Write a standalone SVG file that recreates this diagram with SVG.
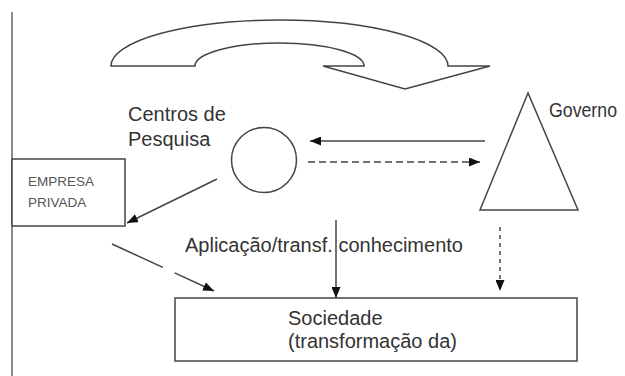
<svg xmlns="http://www.w3.org/2000/svg" width="625" height="376" viewBox="0 0 625 376">
<defs>
<marker id="ah" markerUnits="userSpaceOnUse" markerWidth="11" markerHeight="9" refX="11" refY="4.5" orient="auto">
<path d="M0,0 L11,4.5 L0,9 Z" fill="#111"/>
</marker>
</defs>
<style>
.ln{stroke:#444;stroke-width:1.5;fill:none}
.shape{stroke:#444;stroke-width:1.5;fill:#fff}
.t{font-family:"Liberation Sans",Arial,sans-serif;font-size:20px;fill:#333}
.s{font-family:"Liberation Sans",Arial,sans-serif;font-size:13.5px;fill:#555}
</style>
<rect width="625" height="376" fill="#fff"/>
<line x1="12" y1="12" x2="12" y2="376" stroke="#666" stroke-width="1.5"/>
<g id="cycle">
<path class="shape" d="M111,66 A168.5,46 0 0 1 448,66 L490,66 L405,89 L323,66 L364,66 A84.5,23 0 0 0 195,66 Z"/>
</g>
<g id="centros">
<circle class="shape" cx="264" cy="160" r="32.5"/>
<text class="t" x="128" y="121">Centros de</text>
<text class="t" x="128" y="146">Pesquisa</text>
</g>
<g id="governo">
<polygon class="shape" points="528,93 480,210 578,210"/>
<text class="t" x="549" y="117" font-size="19" textLength="68" lengthAdjust="spacingAndGlyphs">Governo</text>
</g>
<g id="empresa">
<rect class="shape" x="12" y="159" width="113" height="67"/>
<text class="s" x="28" y="186">EMPRESA</text>
<text class="s" x="28" y="207">PRIVADA</text>
</g>
<g id="sociedade">
<rect class="shape" x="175" y="298" width="402" height="63"/>
<text class="t" x="288" y="325">Sociedade</text>
<text class="t" x="288" y="348">(transformação da)</text>
</g>
<g id="connectors">
<line class="ln" x1="485" y1="141" x2="310" y2="141" marker-end="url(#ah)"/>
<line class="ln" x1="308" y1="162" x2="480" y2="162" stroke-dasharray="7 4" marker-end="url(#ah)"/>
<line class="ln" x1="217" y1="179" x2="127" y2="223" marker-end="url(#ah)"/>
<line class="ln" x1="112" y1="244" x2="214" y2="291" stroke-dasharray="56 13" marker-end="url(#ah)"/>
<line class="ln" x1="336" y1="220" x2="336" y2="298" marker-end="url(#ah)"/>
<line class="ln" x1="500" y1="227" x2="500" y2="291" stroke-dasharray="4 4" stroke="#777" marker-end="url(#ah)"/>
<text class="t" x="185" y="252">Aplicação/transf. conhecimento</text>
</g>
</svg>
